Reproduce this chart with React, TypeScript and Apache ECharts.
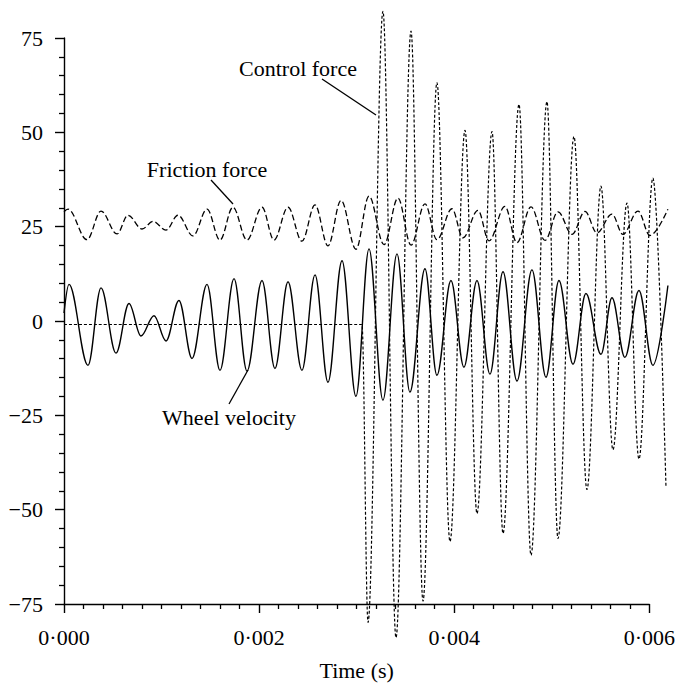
import React, { useEffect, useRef } from "react";
import * as echarts from "echarts";

// Time stamps in milliseconds
const wheelTimeMs = [0, 0.0509, 0.2445, 0.3769, 0.5297, 0.6621, 0.7843, 0.9167, 1.039, 1.171, 1.304, 1.457, 1.589, 1.732, 1.864, 2.017, 2.149, 2.282, 2.424, 2.557, 2.689, 2.832, 2.974, 3.107, 3.249, 3.392, 3.524, 3.677, 3.799, 3.942, 4.074, 4.207, 4.339, 4.472, 4.614, 4.767, 4.91, 5.042, 5.185, 5.317, 5.47, 5.582, 5.714, 5.857, 5.999, 6.152];
const wheelVelocity = [3, 10.5, -10.7, 9.6, -7.5, 5.5, -3, 2.3, -4.3, 6.3, -8.9, 10.5, -12, 12, -12.2, 11.5, -11.5, 11.2, -12, 13, -15.1, 16.7, -18.8, 19.8, -19.8, 18.5, -17.7, 14.6, -13.3, 11.5, -11.2, 11.5, -13, 13.8, -14.8, 14.3, -13.8, 11.5, -10.4, 8.1, -7.8, 7, -8.6, 8.9, -10.7, 10.2];

const frictionTimeMs = [0, 0.041, 0.234, 0.377, 0.54, 0.652, 0.795, 0.907, 1.039, 1.161, 1.314, 1.457, 1.589, 1.721, 1.864, 2.017, 2.139, 2.282, 2.424, 2.557, 2.689, 2.822, 2.974, 3.107, 3.26, 3.402, 3.535, 3.677, 3.799, 3.952, 4.064, 4.217, 4.329, 4.492, 4.614, 4.757, 4.9, 5.032, 5.175, 5.307, 5.429, 5.582, 5.694, 5.847, 5.969, 6.152];
const frictionForce = [29.5, 30.2, 22.2, 29.7, 23.7, 28.6, 25, 27, 24.7, 28.6, 23.2, 30.2, 22.1, 30.7, 22.1, 30.7, 22.1, 30.7, 21.8, 31.3, 20.6, 32.5, 19.7, 33.6, 20.9, 33.1, 20.8, 31.6, 22.2, 30.3, 22.7, 29.9, 21.9, 30.9, 21.4, 30.8, 22, 29.5, 23.6, 29.6, 24, 28.9, 23.6, 29.7, 23.3, 30.2];

const controlTimeMs = [0, 3.035, 3.097, 3.249, 3.382, 3.535, 3.657, 3.799, 3.932, 4.085, 4.207, 4.36, 4.472, 4.635, 4.757, 4.92, 5.032, 5.195, 5.327, 5.47, 5.592, 5.735, 5.857, 5.999, 6.132];
const controlForce = [0, 0, -78, 82, -82, 76.8, -72.4, 63.3, -56.8, 50.8, -49.5, 50.5, -54.7, 57.6, -60.4, 58.3, -56, 49.2, -43.2, 36.2, -32.8, 31.8, -35.2, 38.3, -42.4];

const xMin = 0;
const xMax = 0.006;
const xDataMax = 0.0062;
const xStep = 0.002;
const yMin = -75;
const yMax = 75;
const yStep = 25;

const labelWheel = "Wheel velocity";
const labelFriction = "Friction force";
const labelControl = "Control force";
const xAxisName = "Time (s)";

export default function App() {
  const ref = useRef<HTMLDivElement>(null);
  useEffect(() => {
    document.body.style.margin = "0";
    const chart = echarts.init(ref.current!, null, { renderer: "svg" });
    const toPairs = (ts: number[], vs: number[]) => ts.map((t, i) => [t / 1000, vs[i]]);
    const font = "'Liberation Serif', 'Times New Roman', 'DejaVu Serif', serif";
    const fs = 22;
    const black = "#000";
    const textStyle = { fontFamily: font, fontSize: fs, fill: black };
    const left = 64;
    const axisWidth = 589;
    const dataRight = 678 - left - (axisWidth * xDataMax) / xMax;
    const gridBox = { top: 38, bottom: 75, left };
    const lineBase = {
      type: "line",
      symbol: "none",
      smooth: 0.36,
      smoothMonotone: "x",
      clip: false,
      xAxisIndex: 1,
      yAxisIndex: 1,
    };
    chart.setOption({
      animation: false,
      backgroundColor: "#fff",
      textStyle: { fontFamily: font },
      grid: [
        { ...gridBox, right: 678 - left - axisWidth },
        { ...gridBox, right: dataRight },
      ],
      xAxis: [
        {
          type: "value",
          gridIndex: 0,
          min: xMin,
          max: xMax,
          interval: xStep,
          axisLine: { onZero: false, lineStyle: { color: black, width: 1.4 } },
          axisTick: { show: true, length: 9, lineStyle: { color: black, width: 1.4 } },
          minorTick: { show: true, splitNumber: 10, length: 5, lineStyle: { color: black, width: 1.3 } },
          splitLine: { show: false },
          minorSplitLine: { show: false },
          axisLabel: {
            formatter: (v: number) => v.toFixed(3).replace(".", "\u00b7"),
            fontFamily: font,
            fontSize: fs,
            color: black,
            margin: 22,
          },
          name: xAxisName,
          nameLocation: "middle",
          nameGap: 55,
          nameTextStyle: { fontFamily: font, fontSize: fs, color: black },
        },
        { type: "value", gridIndex: 1, min: xMin, max: xDataMax, show: false },
      ],
      yAxis: [
        {
          type: "value",
          gridIndex: 0,
          min: yMin,
          max: yMax,
          interval: yStep,
          axisLine: { show: true, onZero: false, lineStyle: { color: black, width: 1.4 } },
          axisTick: { show: true, length: 9, lineStyle: { color: black, width: 1.4 } },
          minorTick: { show: true, splitNumber: 5, length: 5, lineStyle: { color: black, width: 1.3 } },
          splitLine: { show: false },
          minorSplitLine: { show: false },
          axisLabel: {
            formatter: (v: number) => (v < 0 ? "\u2212" + Math.abs(v) : String(v)),
            fontFamily: font,
            fontSize: fs,
            color: black,
            margin: 21,
          },
        },
        { type: "value", gridIndex: 1, min: yMin, max: yMax, show: false },
      ],
      series: [
        {
          ...lineBase,
          name: labelWheel,
          data: toPairs(wheelTimeMs, wheelVelocity),
          lineStyle: { color: black, width: 1.4, type: "solid" },
          z: 3,
        },
        {
          ...lineBase,
          name: labelFriction,
          data: toPairs(frictionTimeMs, frictionForce),
          lineStyle: { color: black, width: 1.3, type: [6, 3] },
          z: 2,
        },
        {
          ...lineBase,
          name: labelControl,
          data: toPairs(controlTimeMs, controlForce),
          lineStyle: { color: black, width: 1.2, type: [3, 2] },
          z: 4,
        },
      ],
      graphic: [
        { type: "text", x: 298, y: 68, style: { ...textStyle, text: labelControl, textAlign: "center", textVerticalAlign: "middle" } },
        { type: "line", shape: { x1: 322, y1: 79, x2: 376, y2: 115 }, style: { stroke: black, lineWidth: 1.3 } },
        { type: "text", x: 207, y: 169, style: { ...textStyle, text: labelFriction, textAlign: "center", textVerticalAlign: "middle" } },
        { type: "line", shape: { x1: 211, y1: 180, x2: 233, y2: 204 }, style: { stroke: black, lineWidth: 1.3 } },
        { type: "text", x: 229, y: 417, style: { ...textStyle, text: labelWheel, textAlign: "center", textVerticalAlign: "middle" } },
        { type: "line", shape: { x1: 229, y1: 404, x2: 248, y2: 370 }, style: { stroke: black, lineWidth: 1.3 } },
      ],
    });
    return () => chart.dispose();
  }, []);
  return <div ref={ref} style={{ width: 678, height: 686 }} />;
}
